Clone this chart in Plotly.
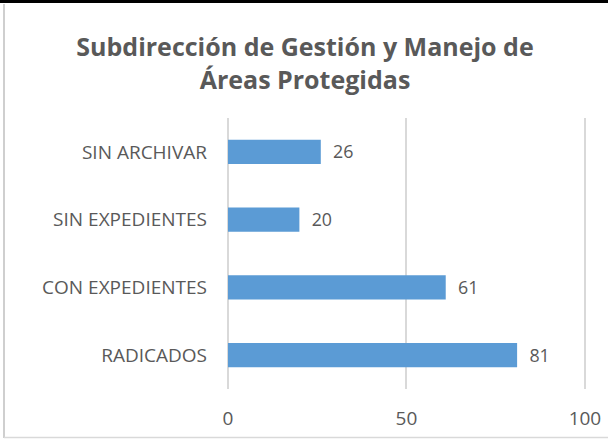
import plotly.graph_objects as go

categories = ["RADICADOS", "CON EXPEDIENTES", "SIN EXPEDIENTES", "SIN ARCHIVAR"]
values = [81, 61, 20, 26]
x_ticks = [0, 50, 100]

FONT = "Open Sans"
GREY = "#595959"

fig = go.Figure(go.Bar(
    y=categories, x=values, orientation="h",
    marker=dict(color="#5B9BD5", line=dict(color="#5B9BD5", width=0)),
    width=0.36,
    text=["  " + str(v) for v in values], textposition="outside",
    textfont=dict(family=FONT, size=19, color=GREY),
    cliponaxis=False,
))

fig.update_layout(
    width=610, height=440,
    margin=dict(l=228, r=24, t=118, b=51, autoexpand=False),
    paper_bgcolor="white", plot_bgcolor="white",
    showlegend=False,
    title=dict(
        text="<b>Subdirección de Gestión y Manejo de<br>Áreas Protegidas</b>",
        x=0.5, xanchor="center", xref="container",
        y=1 - 56 / 440, yanchor="top", yref="container",
        font=dict(family=FONT, size=25, color=GREY),
    ),
    xaxis=dict(
        range=[0, 100.3], tickvals=x_ticks, showgrid=True,
        gridcolor="#D9D9D9", gridwidth=1.5,
        zeroline=True, zerolinecolor="#D9D9D9", zerolinewidth=1.5,
        showline=False, automargin=False,
        tickfont=dict(family=FONT, size=19, color=GREY),
        ticklabelstandoff=16, fixedrange=True,
    ),
    yaxis=dict(
        categoryorder="array", categoryarray=categories,
        showgrid=False, zeroline=False, showline=False, automargin=False,
        tickfont=dict(family=FONT, size=19, color=GREY),
        ticklabelstandoff=20, fixedrange=True,
    ),
    bargap=0.64,
    shapes=[
        dict(type="line", xref="paper", yref="paper",
             x0=-228 / 358, x1=(608 - 228) / 358, y0=1 + 116.5 / 271, y1=1 + 116.5 / 271,
             line=dict(color="black", width=3)),
        dict(type="line", xref="paper", yref="paper",
             x0=-224 / 358, x1=-224 / 358, y0=-49 / 271, y1=1 + 114 / 271,
             line=dict(color="#BFBFBF", width=1.5)),
        dict(type="line", xref="paper", yref="paper",
             x0=-224 / 358, x1=(608 - 228) / 358, y0=-48.5 / 271, y1=-48.5 / 271,
             line=dict(color="#D9D9D9", width=1.5)),
    ],
)

fig.write_html("out.html", config={"displayModeBar": False},
               post_script="document.body.style.margin='0';")
